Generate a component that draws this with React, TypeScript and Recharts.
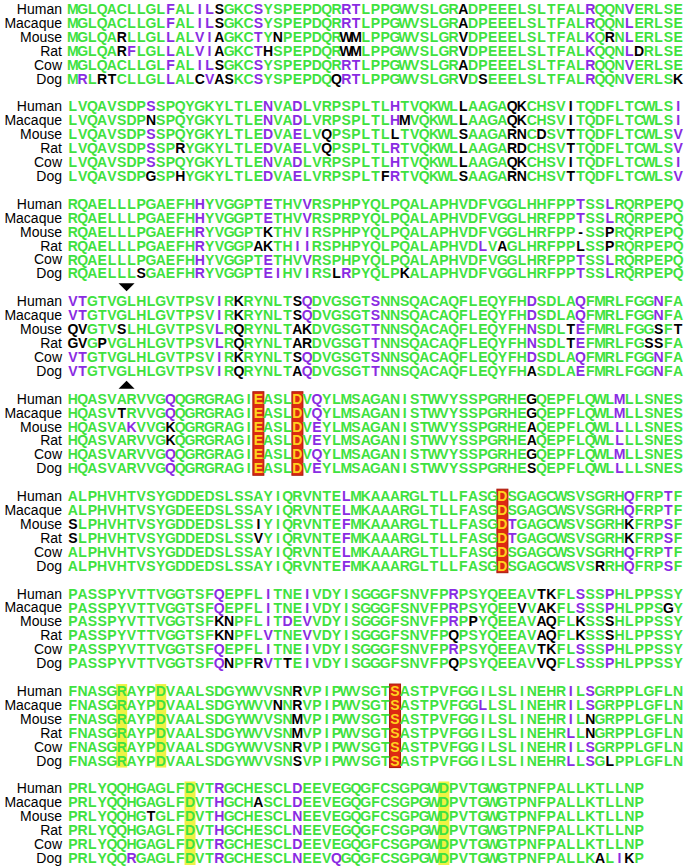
import { ScatterChart, Scatter, XAxis, YAxis } from 'recharts';

const SPECIES = ['Human', 'Macaque', 'Mouse', 'Rat', 'Cow', 'Dog'];

// one string per species, 60-ish residues per block
const SEQ_1 = [
  'MGLQACLLGLFALILSGKCSYSPEPDQRRTLPPGWVSLGRADPEEELSLTFALRQQNVERLSE',
  'MGLQACLLGLFALILSGKCSYSPEPDQRRTLPPGWVSLGRADPEEELSLTFALRQQNLERLSE',
  'MGLQARLLGLLALVIAGKCTYNPEPDQRWMLPPGWVSLGRVDPEEELSLTFALKQRNLERLSE',
  'MGLQARFLGLLALVIAGKCTHSPEPDQRWMLPPGWVSLGRVDPEEELSLTFALKQQNLDRLSE',
  'MGLQACLLGLFALILSGKCSYSPEPDQRRTLPPGWVSLGRADPEEELSLTFALRQQNVERLSE',
  'MRLRTCLLGLLALCVASKCSYSPEPDQQRTLPPGWVSLGRVDSEEELSLTFALRQQNVERLSK',
];
const PURPLE_1 = [
  [11, 14, 15, 20, 29, 30, 54, 58],
  [11, 14, 15, 20, 29, 30, 54, 58],
  [11, 14, 15, 20, 54, 58],
  [7, 11, 14, 15, 20, 54, 58],
  [11, 14, 15, 20, 29, 30, 54, 58],
  [2, 11, 15, 20, 29, 30, 54, 58],
];
const BLACK_1 = [
  [16, 41],
  [16, 41],
  [6, 16, 22, 29, 30, 41, 56],
  [6, 16, 21, 29, 30, 41, 59],
  [16, 41],
  [4, 5, 14, 16, 17, 28, 41, 43, 63],
];

const SEQ_2 = [
  'LVQAVSDPSSPQYGKYLTLENVADLVRPSPLTLHTVQKWLLAAGAQKCHSVITQDFLTCWLSI',
  'LVQAVSDPNSPQYGKYLTLENVADLVRPSPLTLHMVQKWLLAAGAQKCHSVITQDFLTCWLSI',
  'LVQAVSDPSSPQYGKYLTLEDVAELVQPSPLTLLTVQKWLSAAGARNCDSVTTQDFLTCWLSV',
  'LVQAVSDPSSPRYGKYLTLEDVAELVQPSPLTLRTVQKWLLAAGARDCHSVTTQDFLTCWLSV',
  'LVQAVSDPSSPQYGKYLTLENVADLVRPSPLTLHTVQKWLLAAGAQKCHSVITQDFLTCWLSI',
  'LVQAVSDPGSPHYGKYLTLEDVAELVRPSPLTFRTVQKWLSAAGARNCHSVTTQDFLTCWLSV',
];
const PURPLE_2 = [
  [9, 21, 24, 34, 63],
  [21, 24, 34, 63],
  [9, 21, 24, 63],
  [9, 21, 24, 34, 63],
  [9, 21, 24, 34, 63],
  [21, 24, 34, 63],
];
const BLACK_2 = [
  [41, 46, 47, 52],
  [9, 35, 41, 46, 47, 52],
  [27, 34, 41, 46, 47, 49, 52],
  [12, 27, 41, 46, 47, 52],
  [41, 46, 47, 52],
  [9, 12, 33, 41, 46, 47, 52],
];

const SEQ_3 = [
  'RQAELLLPGAEFHHYVGGPTETHVVRSPHPYQLPQALAPHVDFVGGLHHFPPTSSLRQRPEPQ',
  'RQAELLLPGAEFHHYVGGPTETHVVRSPRPYQLPQALAPHVDFVGGLHRFPPTSSLRQRPEPQ',
  'RQAELLLPGAEFHRYVGGPTKTHVIRSPHPYQLPQALAPHVDFVGGLHRFPP-SSPRQRPEPQ',
  'RQAELLLPGAEFHRYVGGPAKTHIIRSPHPYQLPQALAPHVDLVAGLHRFPPLSSPRQRPEPQ',
  'RQAELLLPGAEFHHYVGGPTETHVVRSPHPYQLPQALAPHVDFVGGLHRFPPTSSLRQRPEPQ',
  'RQAELLLSGAEFHRYVGGPTEIHVIRSLRPYQLPKALAPHVDFVGGLHRFPPTSSLRQRPEPQ',
];
const PURPLE_3 = [
  [14, 21, 25, 53, 56],
  [14, 21, 25, 53, 56],
  [14, 25],
  [14, 24, 25, 43],
  [14, 21, 25, 53, 56],
  [14, 21, 22, 25, 29, 53, 56],
];
const BLACK_3 = [
  [],
  [],
  [21, 53, 56],
  [20, 21, 45, 53, 56],
  [],
  [8, 28, 35],
];

const SEQ_4 = [
  'VTGTVGLHLGVTPSVIRKRYNLTSQDVGSGTSNNSQACAQFLEQYFHDSDLAQFMRLFGGNFA',
  'VTGTVGLHLGVTPSVIRKRYNLTSQDVGSGTSNNSQACAQFLEQYFHDSDLAQFMRLFGGNFA',
  'QVGTVSLHLGVTPSVLRQRYNLTAKDVGSGTTNNSQACAQFLEQYFHNSDLTEFMRLFGGSFT',
  'GVGPVGLHLGVTPSVLRQRYNLTARDVGSGTTNNSQACAQFLEQYFHNSDLTEFMRLFGSSFA',
  'VTGTVGLHLGVTPSVIRKRYNLTSQDVGSGTSNNSQACAQFLEQYFHDSDLAQFMRLFGGNFA',
  'VTGTVGLHLGVTPSVIRQRYNLTAQDVGSGTTNNSQACAQFLEQYFHASDLAEFMRLFGGNFA',
];
const PURPLE_4 = [
  [1, 2, 16, 25, 32, 48, 53, 61],
  [1, 2, 16, 25, 32, 48, 53, 61],
  [16, 32, 48, 53],
  [16, 32, 48, 53],
  [1, 2, 16, 25, 32, 48, 53, 61],
  [1, 2, 16, 25, 32, 53, 61],
];
const BLACK_4 = [
  [18, 24],
  [18, 24],
  [1, 2, 6, 18, 24, 25, 52, 61, 63],
  [1, 2, 4, 18, 24, 25, 52, 60, 61],
  [18, 24],
  [18, 24, 48],
];

const SEQ_5 = [
  'HQASVARVVGQQGRGRAGIEASLDVQYLMSAGANISTWVYSSPGRHEGQEPFLQWLMLLSNES',
  'HQASVTRVVGQQGRGRAGIEASLDVQYLMSAGANISTWVYSSPGRHEGQEPFLQWLMLLSNES',
  'HQASVAKVVGKQGRGRAGIEASLDVEYLMSAGANISTWVYSSPGRHEAQEPFLQWLLLLSNES',
  'HQASVARVVGKQGRGRAGIEASLDVEYLMSAGANISTWVYSSPGRHEAQEPFLQWLLLLSNES',
  'HQASVARVVGQQGRGRAGIEASLDVQYLMSAGANISTWVYSSPGRHEGQEPFLQWLMLLSNES',
  'HQASVARVVGQQGRGRAGIEASLDVEYLMSAGANISTWVYSSPGRHESQEPFLQWLLLLSNES',
];
const PURPLE_5 = [
  [11, 26, 57],
  [11, 26, 57],
  [7, 26, 57],
  [26, 57],
  [11, 26, 57],
  [11, 26, 57],
];
const BLACK_5 = [[48], [6, 48], [11, 48], [11, 48], [48], [48]];

const SEQ_6 = [
  'ALPHVHTVSYGDDEDSLSSAYIQRVNTELMKAAARGLTLLFASGDSGAGCWSVSGRHQFRPTF',
  'ALPHVHTVSYGDEEDSLSSAYIQRVNTELMKAAARGLTLLFASGDSGAGCWSVSGRHQFRPTF',
  'SLPHVHTVSYGDDEDSLSSIYIQRVNTEFMKAAARGLTLLFASGDTGAGCWSVSGRHKFRPSF',
  'SLPHVHTVSYGDDEDSLSSVYIQRVNTEFMKAAARGLTLLFASGDTGAGCWSVSGRHKFRPSF',
  'ALPHVHTVSYGDDEDSLSSAYIQRVNTELMKAAARGLTLLFASGDSGAGCWSVSGRHQFRPTF',
  'ALPHVHTVSYGDDEDSLSSAYIQRVNTEFMKAAARGLTLLFASGDSGAGCWSVSRRHQFRPSF',
];
const PURPLE_6 = [
  [29, 58, 62],
  [29, 58, 62],
  [29, 46, 62],
  [29, 46, 62],
  [29, 58, 62],
  [29, 58, 62],
];
const BLACK_6 = [[], [], [1, 20, 58], [1, 20, 58], [], [55]];

const SEQ_7 = [
  'PASSPYVTTVGGTSFQEPFLITNEIVDYISGGGFSNVFPRPSYQEEAVTKFLSSSPHLPPSSY',
  'PASSPYVTTVGGTSFQEPFLITNEIVDYISGGGFSNVFPRPSYQEEVVAKFLSSSPHLPPSGY',
  'PASSPYVTTVGGTSFKNPFLITDEVVDYISGGGFSNVFPRPPYQEEAVAQFLKSSSHLPPSSY',
  'PASSPYVTTVGGTSFKNPFLVTNEVVDYISGGGFSNVFPQPSYQEEAVAQFLKSSSHLPPSSY',
  'PASSPYVTTVGGTSFQEPFLITNEIVDYISGGGFSNVFPRPSYQEEAVTKFLSSSPHLPPSSY',
  'PASSPYVTTVGGTSFQNPFRVTTEIVDYISGGGFSNVFPQPSYQEEAVVQFLSSSPHLPPSSY',
];
const PURPLE_7 = [
  [16, 21, 25, 40, 53, 56],
  [16, 21, 25, 40, 53, 56],
  [21, 23, 25, 40],
  [21, 25],
  [16, 21, 25, 40, 53, 56],
  [16, 21, 25, 53, 56],
];
const BLACK_7 = [
  [49, 50],
  [47, 49, 50, 62],
  [16, 17, 42, 49, 50, 53, 56],
  [16, 17, 40, 49, 50, 53, 56],
  [49, 50],
  [17, 20, 23, 40, 49, 50],
];

const SEQ_8 = [
  'FNASGRAYPDVAALSDGYWVVSNRVPIPWVSGTSASTPVFGGILSLINEHRILSGRPPLGFLN',
  'FNASGRAYPDVAALSDGYWVVNNRVPIPWVSGTSASTPVFGGLLSLINEHRILSGRPPLGFLN',
  'FNASGRAYPDVAALSDGYWVVSNMVPIPWVSGTSASTPVFGGILSLINEHRILNGRPPLGFLN',
  'FNASGRAYPDVAALSDGYWVVSNMVPIPWVSGTSASTPVFGGILSLINEHRLLNGRPPLGFLN',
  'FNASGRAYPDVAALSDGYWVVSNRVPIPWVSGTSASTPVFGGILSLINEHRILSGRPPLGFLN',
  'FNASGRAYPDVAALSDGYWVVSNSVPIPWVSGTSASTPVFGGILSLINEHRLLSGLPPLGFLN',
];
const PURPLE_8 = [[52, 54], [43, 52, 54], [52], [52], [52, 54], [52, 54]];
const BLACK_8 = [[24], [22, 24], [24, 54], [24, 54], [24], [24, 56]];

const SEQ_9 = [
  'PRLYQQHGAGLFDVTRGCHESCLDEEVEGQGFCSGPGWDPVTGWGTPNFPALLKTLLNP',
  'PRLYQQHGAGLFDVTHGCHASCLDEEVEGQGFCSGPGWDPVTGWGTPNFPALLKTLLNP',
  'PRLYQQHGTGLFDVTHGCHESCLNEEVEGQGFCSGPGWDPVTGWGTPNFPALLKTLLNP',
  'PRLYQQHGAGLFDVTHGCHESCLNEEVEGQGFCSGPGWDPVTGWGTPNFPALLKTLLNP',
  'PRLYQQHGAGLFDVTRGCHESCLDEEVEGQGFCSGPGWDPVTGWGTPNFPALLKTLLNP',
  'PRLYQQRGAGLFDVTRGCHESCLNEEVQGQGFCSGPGWDPVTGWGTPNFPALLKALIKP',
];
const PURPLE_9 = [[16, 24], [16, 24], [16, 24], [16, 24], [16, 24], [7, 16, 24, 28, 57]];
const BLACK_9 = [[], [20], [9], [], [], [55, 58]];

const RED_COLS = [[], [], [], [], [20, 24], [45], [], [34], []];
const YELLOW_COLS = [[], [], [], [], [], [], [], [6, 10], [13, 39]];
const DOWN_MARKS = [{ block: 3, col: 6 }];
const UP_MARKS = [{ block: 3, col: 6 }];

const SEQS = [SEQ_1, SEQ_2, SEQ_3, SEQ_4, SEQ_5, SEQ_6, SEQ_7, SEQ_8, SEQ_9];
const PURPLES = [PURPLE_1, PURPLE_2, PURPLE_3, PURPLE_4, PURPLE_5, PURPLE_6, PURPLE_7, PURPLE_8, PURPLE_9];
const BLACKS = [BLACK_1, BLACK_2, BLACK_3, BLACK_4, BLACK_5, BLACK_6, BLACK_7, BLACK_8, BLACK_9];

const ROWS_PER_BLOCK = SPECIES.length + 1;
const LAST_ROW = SEQS.length * ROWS_PER_BLOCK - 2;
const ROW_H = 863 / (LAST_ROW + 1);

const COLORS: Record<string, string> = {
  green: '#3fe23f',
  purple: '#8a2be2',
  black: '#000000',
  red: '#ffd21f',
};

const residues: { x: number; y: number; ch: string; kind: string }[] = [];
SEQS.forEach((block, b) => {
  block.forEach((seq, s) => {
    const row = b * ROWS_PER_BLOCK + s;
    [...seq].forEach((ch, i) => {
      const col = i + 1;
      let kind = 'green';
      if (RED_COLS[b].includes(col)) kind = 'red';
      else if (PURPLES[b][s].includes(col)) kind = 'purple';
      else if (BLACKS[b][s].includes(col)) kind = 'black';
      residues.push({ x: col - 0.5, y: row, ch, kind });
    });
  });
});

const boxes: { x: number; y: number; kind: string }[] = [];
SEQS.forEach((_, b) => {
  const mid = b * ROWS_PER_BLOCK + (SPECIES.length - 1) / 2;
  RED_COLS[b].forEach((col) => boxes.push({ x: col - 0.5, y: mid, kind: 'red' }));
  YELLOW_COLS[b].forEach((col) => boxes.push({ x: col - 0.5, y: mid, kind: 'yellow' }));
});

const marks = [
  ...DOWN_MARKS.map((m) => ({ x: m.col, y: m.block * ROWS_PER_BLOCK - 1, dir: 'down' })),
  ...UP_MARKS.map((m) => ({ x: m.col, y: m.block * ROWS_PER_BLOCK + SPECIES.length, dir: 'up' })),
];

const nameTicks: number[] = [];
const nameAt: Record<number, string> = {};
SEQS.forEach((_, b) => {
  SPECIES.forEach((name, s) => {
    const row = b * ROWS_PER_BLOCK + s;
    nameTicks.push(row);
    nameAt[row] = name;
  });
});

const SEQ_FONT = "'Liberation Sans Narrow', 'Arial Narrow', 'Liberation Sans', Arial, sans-serif";

function ResidueShape(props: any) {
  const { cx, cy, payload } = props;
  return (
    <text
      x={cx}
      y={cy}
      dy="0.36em"
      textAnchor="middle"
      fontFamily={SEQ_FONT}
      fontWeight="bold"
      fontSize={14}
      fill={COLORS[payload.kind]}
    >
      {payload.ch}
    </text>
  );
}

function BoxShape(props: any) {
  const { cx, cy, payload } = props;
  const h = ROW_H * SPECIES.length;
  const w = 11;
  const red = payload.kind === 'red';
  return (
    <rect
      x={cx - w / 2}
      y={cy - h / 2}
      width={w}
      height={h}
      fill={red ? '#dd2a12' : '#eef244'}
      stroke={red ? '#a8180a' : 'none'}
      strokeWidth={1}
    />
  );
}

function MarkShape(props: any) {
  const { cx, cy, payload } = props;
  const d =
    payload.dir === 'down'
      ? `M${cx - 8},${cy - 4}L${cx + 8},${cy - 4}L${cx},${cy + 4}Z`
      : `M${cx - 8},${cy + 4}L${cx + 8},${cy + 4}L${cx},${cy - 4}Z`;
  return <path d={d} fill="#000" />;
}

export default function App() {
  return (
    <div style={{ position: 'absolute', left: 0, top: 0, background: '#fff' }}>
      <ScatterChart width={685} height={867} margin={{ top: 2, right: 2, bottom: 2, left: 0 }}>
        <XAxis type="number" dataKey="x" domain={[0, 63]} hide />
        <YAxis
          type="number"
          dataKey="y"
          domain={[-0.5, LAST_ROW + 0.5]}
          reversed
          ticks={nameTicks}
          interval={0}
          tickFormatter={(v: number) => nameAt[v] ?? ''}
          width={68}
          axisLine={false}
          tickLine={false}
          tickSize={6}
          tickMargin={0}
          tick={{ fontSize: 14, fill: '#000', fontFamily: "'Liberation Sans', Arial, sans-serif" }}
        />
        <Scatter data={boxes} shape={BoxShape} isAnimationActive={false} />
        <Scatter data={residues} shape={ResidueShape} isAnimationActive={false} />
        <Scatter data={marks} shape={MarkShape} isAnimationActive={false} />
      </ScatterChart>
    </div>
  );
}
